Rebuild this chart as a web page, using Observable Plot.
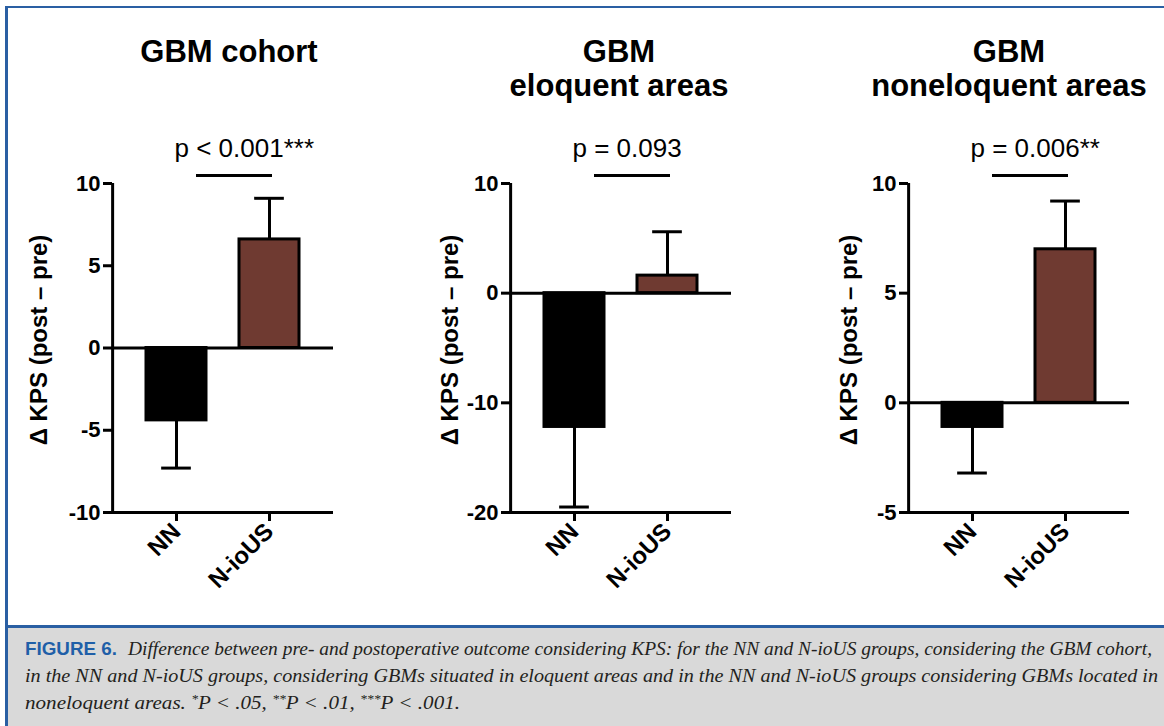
<!DOCTYPE html>
<html><head><meta charset="utf-8">
<script src="https://cdn.jsdelivr.net/npm/d3@7"></script>
<script src="https://cdn.jsdelivr.net/npm/@observablehq/plot@0.6"></script>
<style>
html,body{margin:0;padding:0;background:#fff;}
body{width:1164px;height:726px;overflow:hidden;position:relative;font-family:"Liberation Sans",Arial,sans-serif;}
.panel{position:absolute;top:10px;}
#topline{position:absolute;left:5px;top:6px;right:0;height:2px;background:#2a5fa3;}
#leftline{position:absolute;left:5px;top:6px;bottom:0;width:3px;background:#2a5fa3;}
#sep{position:absolute;left:5px;right:0;top:625px;height:3px;background:#2a5fa3;}
#capbg{position:absolute;left:8px;right:0;top:628px;bottom:0;background:#d9d9d9;}
.cap{position:absolute;white-space:nowrap;font-family:"Liberation Serif","Times New Roman",serif;font-style:italic;font-size:18.5px;line-height:20px;color:#231f20;transform-origin:0 0;}
.fig{position:absolute;white-space:nowrap;font-family:"Liberation Sans",Arial,sans-serif;font-weight:bold;font-size:18.5px;line-height:20px;color:#1f5fa8;transform-origin:0 0;}
sup{font-size:12px;line-height:0;vertical-align:6px;}
</style></head>
<body>
<div id="topline"></div>
<div id="leftline"></div>
<div id="sep"></div>
<div id="capbg"></div>
<div id="p0" class="panel" style="left:10px"></div>
<div id="p1" class="panel" style="left:408px"></div>
<div id="p2" class="panel" style="left:806px"></div>
<div id="f1" class="fig" style="left:25px;top:639px">FIGURE 6.</div>
<div id="c1" class="cap" style="left:128px;top:639px">Difference between pre- and postoperative outcome considering KPS: for the NN and N-ioUS groups, considering the GBM cohort,</div>
<div id="c2" class="cap" style="left:25px;top:666px">in the NN and N-ioUS groups, considering GBMs situated in eloquent areas and in the NN and N-ioUS groups considering GBMs located in</div>
<div id="c3" class="cap" style="left:25px;top:693px">noneloquent areas. <sup>*</sup>P &lt; .05, <sup>**</sup>P &lt; .01, <sup>***</sup>P &lt; .001.</div>
<script>
// ---- data ----
const categories = ["NN", "N-ioUS"];
const panelTitles = ["GBM cohort", "GBM\neloquent areas", "GBM\nnoneloquent areas"];
const meanNN = [-4.4, -12.2, -1.1];
const meanIoUS = [6.6, 1.6, 7.0];
const errNN = [-7.3, -19.5, -3.2];   // end of the (downward) error bar
const errIoUS = [9.1, 5.6, 9.2];     // end of the (upward) error bar
const yMin = [-10, -20, -5];
const yMax = [10, 10, 10];
const yTickValues = [[-10, -5, 0, 5, 10], [-20, -10, 0, 10], [-5, 0, 5, 10]];
const pLabels = ["p < 0.001***", "p = 0.093", "p = 0.006**"];
const yLabel = "Δ KPS (post – pre)";
const barColors = ["#000000", "#6f3a31"];

// ---- layout (styling only) ----
const W = 350, H = 600, ML = 102, MR = 27, MT = 173, MB = 98;
const PI = 0.35, PO = 0.36;
const innerW = W - ML - MR;
const step = innerW / (2 - PI + 2 * PO);
const bw = step * (1 - PI);
const nnOffset = step * PO + bw / 2;
const labelDx = [-73, -60, -59];
const titleDx = [6, -2, -10];
const font = "'Liberation Sans', Arial, Helvetica, sans-serif";

for (let i = 0; i < 3; i++) {
  const rows = [
    {group: categories[0], mean: meanNN[i], err: errNN[i]},
    {group: categories[1], mean: meanIoUS[i], err: errIoUS[i]}
  ];
  const chart = Plot.plot({
    width: W, height: H,
    marginLeft: ML, marginRight: MR, marginTop: MT, marginBottom: MB,
    style: {fontFamily: font, background: "transparent", overflow: "visible", color: "#000"},
    x: {domain: categories, paddingInner: PI, paddingOuter: PO},
    y: {domain: [yMin[i], yMax[i]]},
    color: {domain: categories, range: barColors},
    marks: [
      Plot.ruleX(rows, {x: "group", y1: "mean", y2: "err", stroke: "#000", strokeWidth: 3}),
      Plot.tickY(rows, {x: "group", y: "err", stroke: "#000", strokeWidth: 3, insetLeft: bw / 4, insetRight: bw / 4}),
      Plot.barY(rows, {x: "group", y1: 0, y2: "mean", fill: "group", stroke: "#000", strokeWidth: 3}),
      Plot.ruleY([0], {stroke: "#000", strokeWidth: 3}),
      Plot.ruleY([yMin[i]], {stroke: "#000", strokeWidth: 3}),
      Plot.ruleX([categories[0]], {x: d => d, y1: yMin[i], y2: yMax[i], dx: -nnOffset, stroke: "#000", strokeWidth: 3}),
      Plot.axisY({ticks: yTickValues[i], tickFormat: d => String(d), tickSize: 9, tickPadding: 3,
        strokeWidth: 3, fontSize: 22, fontWeight: "bold", label: null}),
      Plot.axisX({tickSize: 9, tickPadding: 6, strokeWidth: 3, tickRotate: -45,
        fontSize: 24, fontWeight: "bold", label: null}),
      Plot.text([yLabel], {text: d => d, frameAnchor: "left", textAnchor: "middle", rotate: -90, fontSize: 24,
        fontWeight: "bold", fill: "#000", dx: labelDx[i], dy: -8}),
      Plot.text([panelTitles[i]], {text: d => d, frameAnchor: "top", fontSize: 31, fontWeight: "bold",
        lineAnchor: "top", lineHeight: 1.08, dy: -145, dx: titleDx[i], fill: "#000"}),
      Plot.ruleY([yMax[i]], {x1: () => categories[0], x2: () => categories[1], dy: -8,
        insetLeft: 50, insetRight: 27, stroke: "#000", strokeWidth: 3}),
      Plot.text([pLabels[i]], {x: () => categories[0], text: d => d, frameAnchor: "top", textAnchor: "start",
        fontSize: 26, lineAnchor: "top", dy: -45, dx: -2, fill: "#000"})
    ]
  });
  document.getElementById("p" + i).appendChild(chart);
}

// fit caption lines to the reference widths
function fit(id, target) {
  const el = document.getElementById(id);
  const w = el.getBoundingClientRect().width;
  el.style.transform = `scaleX(${target / w})`;
}
fit("f1", 92);
fit("c1", 1024);
fit("c2", 1133);
fit("c3", 435);
</script>
</body></html>
